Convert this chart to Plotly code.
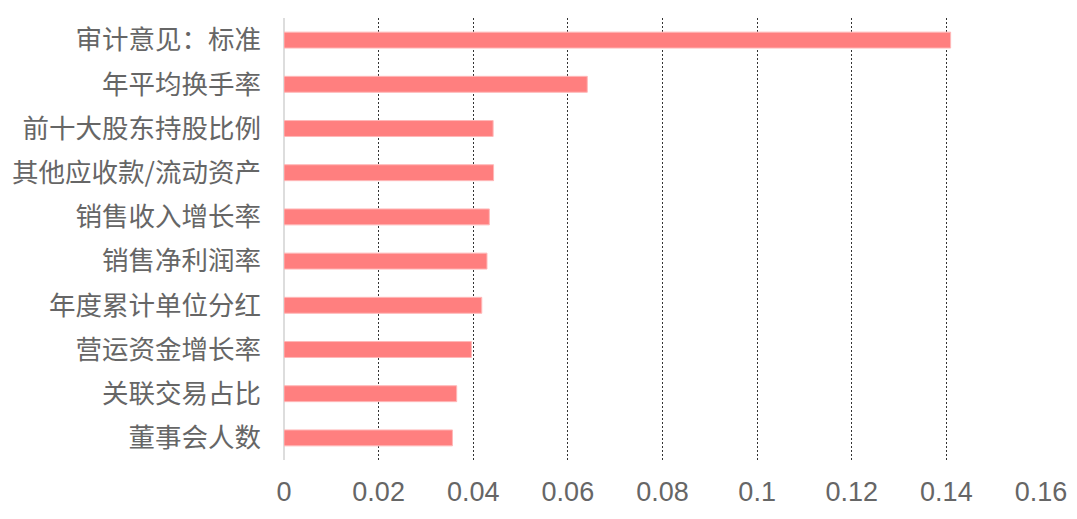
import plotly.graph_objects as go

FEATURES = [
    "审计意见：标准",
    "年平均换手率",
    "前十大股东持股比例",
    "其他应收款/流动资产",
    "销售收入增长率",
    "销售净利润率",
    "年度累计单位分红",
    "营运资金增长率",
    "关联交易占比",
    "董事会人数",
]
IMPORTANCE = [0.1409, 0.0641, 0.0442, 0.0443, 0.0434, 0.0429, 0.0418, 0.0396, 0.0365, 0.0356]
TICKS = [0, 0.02, 0.04, 0.06, 0.08, 0.1, 0.12, 0.14, 0.16]
TICK_TEXT = ["0", "0.02", "0.04", "0.06", "0.08", "0.1", "0.12", "0.14", "0.16"]

FONT = "Liberation Sans, Noto Sans CJK SC, sans-serif"

figure = go.Figure()
figure.add_trace(
    go.Bar(
        x=IMPORTANCE,
        y=FEATURES,
        orientation="h",
        width=0.36,
        marker={"color": "#ff7f7f", "line": {"color": "#ffb8b8", "width": 1}},
    )
)
# page body has an 8px margin, so the figure is sized to fit the window
figure.update_layout(
    width=1069,
    height=511,
    margin={"l": 276, "r": 36, "t": 10, "b": 59, "autoexpand": False},
    plot_bgcolor="white",
    paper_bgcolor="white",
    showlegend=False,
    font={"family": FONT, "color": "#666666", "size": 27},
)
figure.update_xaxes(
    range=[0, 0.16],
    tickvals=TICKS,
    ticktext=TICK_TEXT,
    showgrid=True,
    gridcolor="#333333",
    gridwidth=1,
    griddash="2px,2px",
    zeroline=True,
    zerolinecolor="#dddddd",
    zerolinewidth=2,
    showline=False,
    ticks="",
    ticklabelstandoff=13,
    tickfont={"size": 27, "color": "#666666"},
    automargin=False,
)
figure.update_yaxes(
    categoryorder="array",
    categoryarray=FEATURES[::-1],
    range=[-0.5, 9.5],
    showgrid=False,
    zeroline=False,
    showline=False,
    ticks="",
    ticklabelstandoff=22,
    tickfont={"size": 26.5, "color": "#666666", "family": "Noto Sans CJK SC"},
    automargin=False,
)
figure.write_html("out.html")
